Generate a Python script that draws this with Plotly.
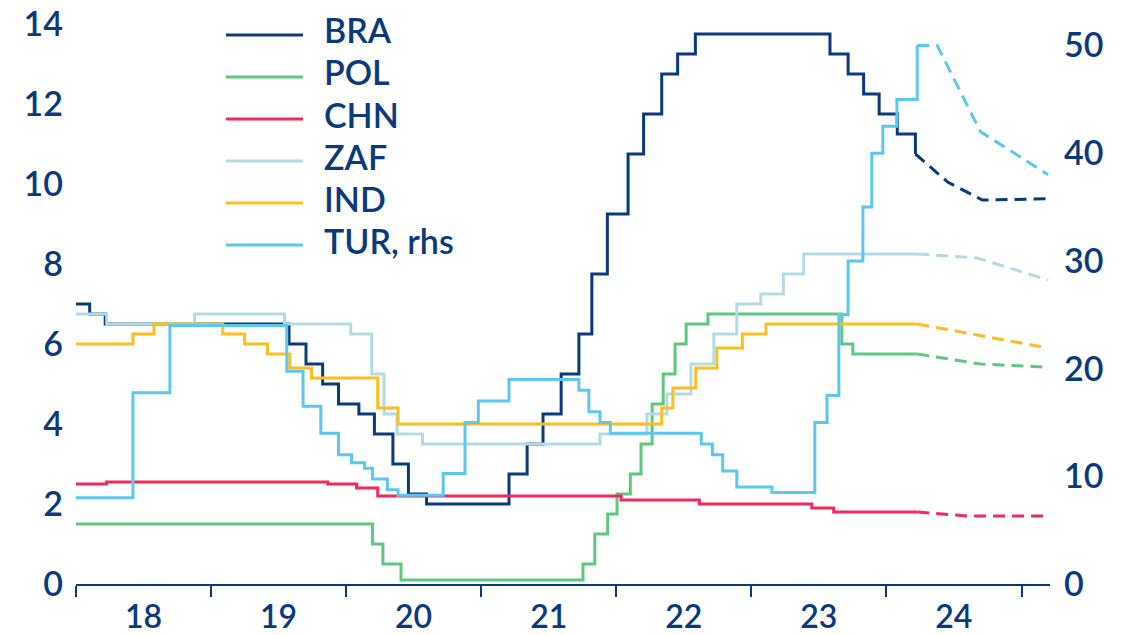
import plotly.graph_objects as go

# ---- policy rates, step series (left axis, %) ----
bra_dates = ["2018-01-01", "2018-02-07", "2018-03-21", "2019-07-31", "2019-09-15", "2019-10-30",
             "2019-12-12", "2020-02-05", "2020-03-18", "2020-05-07", "2020-06-18", "2020-08-06",
             "2021-03-17", "2021-05-05", "2021-06-17", "2021-08-05", "2021-09-22", "2021-10-27",
             "2021-12-08", "2022-02-02", "2022-03-16", "2022-05-04", "2022-06-16", "2022-08-03",
             "2023-08-02", "2023-09-20", "2023-11-01", "2023-12-13", "2024-01-31", "2024-03-20"]
bra_rates = [7.0, 6.75, 6.5, 6.0, 5.5, 5.0,
             4.5, 4.25, 3.75, 3.0, 2.25, 2.0,
             2.75, 3.5, 4.25, 5.25, 6.25, 7.75,
             9.25, 10.75, 11.75, 12.75, 13.25, 13.75,
             13.25, 12.75, 12.25, 11.75, 11.25, 10.75]

pol_dates = ["2018-01-01", "2020-03-13", "2020-04-10", "2020-05-29", "2021-10-03", "2021-11-04",
             "2021-12-09", "2022-01-03", "2022-02-08", "2022-03-09", "2022-04-08", "2022-05-08",
             "2022-06-09", "2022-07-09", "2022-09-06", "2023-09-03", "2023-10-03", "2024-03-25"]
pol_rates = [1.5, 1.0, 0.5, 0.1, 0.5, 1.25,
             1.75, 2.25, 2.75, 3.5, 4.5, 5.25,
             6.0, 6.5, 6.75, 6.0, 5.75, 5.75]

chn_dates = ["2018-01-01", "2018-03-25", "2019-11-13", "2020-01-30", "2020-03-27", "2022-01-14",
             "2022-08-14", "2023-06-14", "2023-08-12", "2024-03-25"]
chn_rates = [2.5, 2.55, 2.5, 2.4, 2.2, 2.1,
             2.0, 1.9, 1.8, 1.8]

zaf_dates = ["2018-01-01", "2018-03-25", "2018-11-18", "2019-07-19", "2020-01-14", "2020-03-11",
             "2020-04-13", "2020-05-18", "2020-07-26", "2021-11-18", "2022-03-25", "2022-05-18",
             "2022-07-22", "2022-09-22", "2022-11-23", "2023-01-27", "2023-03-29", "2023-05-23",
             "2024-03-25"]
zaf_rates = [6.75, 6.5, 6.75, 6.5, 6.25, 5.25,
             4.25, 3.75, 3.5, 3.75, 4.25, 4.75,
             5.5, 6.25, 7.0, 7.25, 7.75, 8.25,
             8.25]

ind_dates = ["2018-01-01", "2018-06-04", "2018-07-31", "2019-02-02", "2019-04-02", "2019-06-03",
             "2019-08-02", "2019-09-30", "2020-03-27", "2020-05-21", "2022-05-04", "2022-06-03",
             "2022-08-04", "2022-09-30", "2022-12-08", "2023-02-10", "2024-03-25"]
ind_rates = [6.0, 6.25, 6.5, 6.25, 6.0, 5.75,
             5.4, 5.15, 4.4, 4.0, 4.4, 4.9,
             5.4, 5.9, 6.25, 6.5, 6.5]

# ---- Turkey (right axis, %) ----
tur_dates = ["2018-01-01", "2018-06-04", "2018-09-12", "2019-07-25", "2019-09-07", "2019-10-25",
             "2019-12-12", "2020-01-16", "2020-02-20", "2020-03-13", "2020-04-22", "2020-05-21",
             "2020-09-20", "2020-11-18", "2020-12-24", "2021-03-17", "2021-09-22", "2021-10-19",
             "2021-11-18", "2021-12-16", "2022-08-19", "2022-09-18", "2022-10-16", "2022-11-23",
             "2023-02-26", "2023-06-22", "2023-07-25", "2023-08-26", "2023-09-20", "2023-10-30",
             "2023-11-23", "2023-12-23", "2024-01-30", "2024-03-25"]
tur_rates = [8.0, 17.75, 24.0, 19.75, 16.5, 14.0,
             12.0, 11.25, 10.75, 9.75, 8.75, 8.25,
             10.25, 15.0, 17.0, 19.0, 18.0, 16.0,
             15.0, 14.0, 13.0, 12.0, 10.5, 9.0,
             8.5, 15.0, 17.5, 25.0, 30.0, 35.0,
             40.0, 42.5, 45.0, 50.0]

# ---- forecast paths (dashed) ----
bra_fc_dates = ["2024-03-20", "2024-06-15", "2024-09-17", "2025-03-14"]
bra_fc_rates = [10.75, 10.05, 9.6, 9.63]
pol_fc_dates = ["2024-03-25", "2024-09-12", "2025-03-14"]
pol_fc_rates = [5.75, 5.5, 5.42]
chn_fc_dates = ["2024-03-25", "2024-08-07", "2025-03-14"]
chn_fc_rates = [1.8, 1.7, 1.7]
zaf_fc_dates = ["2024-03-25", "2024-09-03", "2025-03-14"]
zaf_fc_rates = [8.25, 8.15, 7.6]
ind_fc_dates = ["2024-03-25", "2024-06-22", "2024-09-12", "2025-03-14"]
ind_fc_rates = [6.5, 6.35, 6.2, 5.9]
tur_fc_dates = ["2024-03-25", "2024-05-18", "2024-09-12", "2025-03-14"]
tur_fc_rates = [50.0, 50.0, 42.0, 38.0]

legend_labels = ["BRA", "POL", "CHN", "ZAF", "IND", "TUR, rhs"]
left_ticks = [0, 2, 4, 6, 8, 10, 12, 14]
right_ticks = [0, 10, 20, 30, 40, 50]

NAVY = "#0b3a7c"
colors = {
    "BRA": "#0b3a7c",
    "POL": "#5cc97c",
    "CHN": "#f2295b",
    "ZAF": "#b3dbe6",
    "IND": "#ffbd1f",
    "TUR": "#5ac8f0",
}
FONT = "Lato"
FSIZE = 34
FWEIGHT = 600
LW = 3
DASH = "12px,7px"
txt = dict(family=FONT, size=FSIZE, color=NAVY, weight=FWEIGHT)
xtxt = dict(family=FONT, size=32, color=NAVY, weight=FWEIGHT)

series = [
    ("BRA", bra_dates, bra_rates, bra_fc_dates, bra_fc_rates, "y"),
    ("POL", pol_dates, pol_rates, pol_fc_dates, pol_fc_rates, "y"),
    ("CHN", chn_dates, chn_rates, chn_fc_dates, chn_fc_rates, "y"),
    ("ZAF", zaf_dates, zaf_rates, zaf_fc_dates, zaf_fc_rates, "y"),
    ("IND", ind_dates, ind_rates, ind_fc_dates, ind_fc_rates, "y"),
    ("TUR", tur_dates, tur_rates, tur_fc_dates, tur_fc_rates, "y2"),
]

fig = go.Figure()
for name, d, v, fd, fv, ax in series:
    fig.add_trace(go.Scatter(x=d, y=v, mode="lines", line=dict(color=colors[name], width=LW, shape="hv"),
                             yaxis=ax, showlegend=False, name=name))
    fig.add_trace(go.Scatter(x=fd, y=fv, mode="lines", line=dict(color=colors[name], width=LW, dash=DASH),
                             yaxis=ax, showlegend=False, name=name + " forecast"))

# plot-area geometry in pixels
W, H = 1132, 635
ML, MR, MT, MB = 76, 82, 16, 51
PW, PH = W - ML - MR, H - MT - MB
YMAX = 14.2


def px_x(px):
    return (px - ML) / PW


def px_y(py):
    return (H - MB - py) / PH


# hand-drawn legend with long line samples
shapes = []
annotations = []
for i, (lab, key) in enumerate(zip(legend_labels, ["BRA", "POL", "CHN", "ZAF", "IND", "TUR"])):
    yy = 35 + 42 * i
    shapes.append(dict(type="line", xref="paper", yref="paper",
                       x0=px_x(226), x1=px_x(303), y0=px_y(yy), y1=px_y(yy),
                       line=dict(color=colors[key], width=LW)))
    annotations.append(dict(xref="paper", yref="paper", x=px_x(322), y=px_y(yy - 5),
                            text=lab, showarrow=False, xanchor="left", yanchor="middle",
                            font=txt))

fig.update_layout(
    width=W, height=H,
    margin=dict(l=ML, r=MR, t=MT, b=MB, autoexpand=False),
    paper_bgcolor="white", plot_bgcolor="white",
    font=txt,
    shapes=shapes, annotations=annotations,
    xaxis=dict(
        type="date", range=["2018-01-01", "2025-03-19"], automargin=False,
        dtick="M12", tick0="2018-01-01", tickformat="%y", ticklabelmode="period",
        ticks="outside", ticklen=11, tickwidth=2, tickcolor=NAVY,
        showline=True, linecolor=NAVY, linewidth=2, ticklabelstandoff=-7,
        showgrid=False, zeroline=False, tickfont=xtxt,
    ),
    yaxis=dict(
        range=[0, YMAX], tickvals=left_ticks, ticks="", showline=False, showgrid=False,
        zeroline=False, ticklabelstandoff=12, automargin=False, tickfont=txt,
    ),
    yaxis2=dict(
        range=[0, YMAX * 52 / 14], tickvals=right_ticks, overlaying="y", side="right",
        ticks="", showline=False, showgrid=False, zeroline=False, ticklabelstandoff=13,
        automargin=False, tickfont=txt,
    ),
)

fig.write_html("out.html")
